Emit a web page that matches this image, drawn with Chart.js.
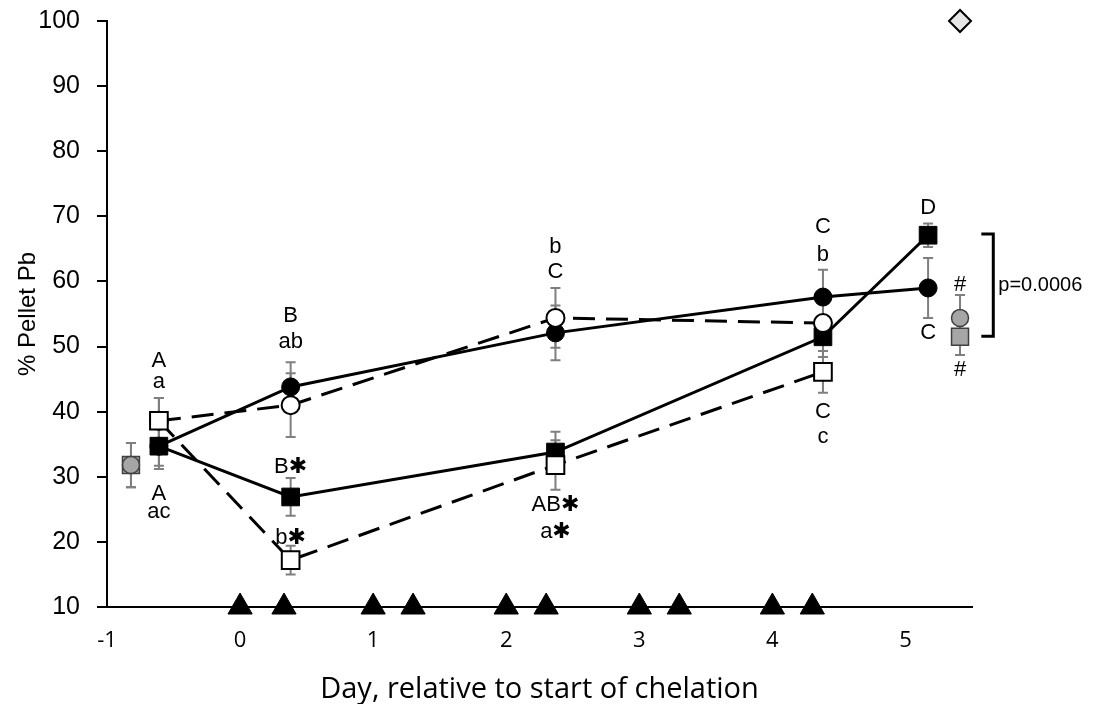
<!DOCTYPE html>
<html>
<head>
<meta charset="utf-8">
<script src="https://cdn.jsdelivr.net/npm/chart.js@4.4.1/dist/chart.umd.min.js"></script>
<style>
    html, body { margin: 0; padding: 0; background: #fff; }
</style>
</head>
<body>
<canvas id="line-chart" width="1096" height="704"></canvas>
<script>
var days = [-0.61, 0.38, 2.37, 4.38, 5.17];
var filledCircle = [34.7, 43.8, 52.1, 57.6, 59.0];
var filledCircleErr = [3.0, 3.8, 4.2, 4.2, 4.6];
var openCircle = [38.6, 41.0, 54.4, 53.6];
var openCircleErr = [3.5, 4.9, 4.6, 3.0];
var filledSquare = [34.7, 26.9, 33.8, 51.5, 67.1];
var filledSquareErr = [3.5, 2.9, 3.1, 3.1, 1.8];
var openSquare = [38.6, 17.2, 31.8, 46.1];
var openSquareErr = [3.5, 2.2, 3.8, 3.2];

// reference groups (grey) and the diamond
var refDays = [-0.82, 5.41];
var refCircle = [31.8, 54.4];
var refCircleErr = [3.4, 3.5];
var refSquare = [31.8, 51.5];
var refSquareErr = [3.4, 2.8];
var diamondDays = [5.41];
var diamondVals = [100];

// chelation doses on the x axis
var doseDays = [0, 0.33, 1, 1.3, 2, 2.3, 3, 3.3, 4, 4.3];
var doseVals = [10, 10, 10, 10, 10, 10, 10, 10, 10, 10];

var labelText = ["A", "a", "A", "ac", "B", "ab", "B\u2731", "b\u2731", "b", "C", "AB\u2731", "a\u2731", "C", "b", "C", "c", "D", "C", "#", "#"];
var labelDay = [-0.61, -0.61, -0.61, -0.61, 0.38, 0.38, 0.38, 0.38, 2.37, 2.37, 2.37, 2.37, 4.38, 4.38, 4.38, 4.38, 5.17, 5.17, 5.41, 5.41];
var labelVal = [47.8, 44.6, 27.4, 24.6, 54.7, 50.7, 31.5, 20.6, 65.3, 61.5, 25.7, 21.5, 68.4, 64.1, 40.0, 36.1, 71.3, 52.1, 59.5, 46.4];

var bracketDays = [5.57, 5.66];
var bracketVals = [67.3, 51.6];
var bracketText = "p=0.0006";

var textFont = "'Liberation Sans', 'DejaVu Sans', Arial, sans-serif";
var axisFont = "'Open Sans', 'Liberation Sans', sans-serif";

function toPoints(xs, ys) {
    return ys.map(function (y, i) { return {x: xs[i], y: y}; });
}

var errorGroups = [
    {xs: days, ys: filledCircle, errs: filledCircleErr},
    {xs: days, ys: openCircle, errs: openCircleErr},
    {xs: days, ys: filledSquare, errs: filledSquareErr},
    {xs: days, ys: openSquare, errs: openSquareErr},
    {xs: refDays, ys: refCircle, errs: refCircleErr},
    {xs: refDays, ys: refSquare, errs: refSquareErr}
];

var extras = {
    id: "extras",
    beforeDatasetsDraw: function (chart) {
        var ctx = chart.ctx, xs = chart.scales.x, ys = chart.scales.y;
        ctx.save();
        ctx.strokeStyle = "#7f7f7f";
        ctx.lineWidth = 2;
        errorGroups.forEach(function (g) {
            g.ys.forEach(function (v, i) {
                var px = xs.getPixelForValue(g.xs[i]);
                var top = ys.getPixelForValue(v + g.errs[i]);
                var bot = ys.getPixelForValue(v - g.errs[i]);
                ctx.beginPath();
                ctx.moveTo(px, top); ctx.lineTo(px, bot);
                ctx.moveTo(px - 5, top); ctx.lineTo(px + 5, top);
                ctx.moveTo(px - 5, bot); ctx.lineTo(px + 5, bot);
                ctx.stroke();
            });
        });
        ctx.restore();
    },
    afterDraw: function (chart) {
        var ctx = chart.ctx, xs = chart.scales.x, ys = chart.scales.y;
        ctx.save();
        ctx.fillStyle = "#000";
        ctx.textAlign = "center";
        ctx.textBaseline = "middle";
        ctx.font = "22px " + textFont;
        labelText.forEach(function (t, i) {
            ctx.fillText(t, xs.getPixelForValue(labelDay[i]), ys.getPixelForValue(labelVal[i]));
        });

        var x0 = xs.getPixelForValue(bracketDays[0]), x1 = xs.getPixelForValue(bracketDays[1]);
        var y0 = ys.getPixelForValue(bracketVals[0]), y1 = ys.getPixelForValue(bracketVals[1]);
        ctx.strokeStyle = "#000";
        ctx.lineWidth = 3;
        ctx.beginPath();
        ctx.moveTo(x0, y0); ctx.lineTo(x1, y0); ctx.lineTo(x1, y1); ctx.lineTo(x0, y1);
        ctx.stroke();
        ctx.textAlign = "left";
        ctx.font = "20px " + textFont;
        ctx.fillText(bracketText, x1 + 5, (y0 + y1) / 2);
        ctx.restore();
    }
};

var datasets = [
    {data: toPoints(days, openSquare), showLine: true, borderDash: [22, 11], borderColor: "#000", borderWidth: 3,
        pointStyle: "rect", pointRadius: 12.5, pointBackgroundColor: "#fff", pointBorderColor: "#000", pointBorderWidth: 2},
    {data: toPoints(days, openCircle), showLine: true, borderDash: [22, 11], borderColor: "#000", borderWidth: 3,
        pointStyle: "circle", pointRadius: 9, pointBackgroundColor: "#fff", pointBorderColor: "#000", pointBorderWidth: 2},
    {data: toPoints(days, filledSquare), showLine: true, borderColor: "#000", borderWidth: 3,
        pointStyle: "rect", pointRadius: 12.5, pointBackgroundColor: "#000", pointBorderColor: "#000", pointBorderWidth: 1},
    {data: toPoints(days, filledCircle), showLine: true, borderColor: "#000", borderWidth: 3,
        pointStyle: "circle", pointRadius: 9, pointBackgroundColor: "#000", pointBorderColor: "#000", pointBorderWidth: 1},
    {data: toPoints(refDays, refCircle), pointStyle: "circle", pointRadius: 8.5,
        pointBackgroundColor: "#a6a6a6", pointBorderColor: "#404040", pointBorderWidth: 1.5},
    {data: toPoints(refDays, refSquare), pointStyle: "rect", pointRadius: 12,
        pointBackgroundColor: "#a6a6a6", pointBorderColor: "#404040", pointBorderWidth: 1.5},
    {data: toPoints(diamondDays, diamondVals), pointStyle: "rectRot", pointRadius: 11,
        pointBackgroundColor: "#e6e6e6", pointBorderColor: "#000", pointBorderWidth: 2},
    {data: toPoints(doseDays, doseVals), pointStyle: "triangle", pointRadius: 14,
        pointBackgroundColor: "#000", pointBorderColor: "#000", pointBorderWidth: 1}
];
datasets.forEach(function (d) { d.clip = false; d.tension = 0; d.pointHoverRadius = d.pointRadius; });

new Chart(document.getElementById("line-chart"), {
    type: "scatter",
    data: {datasets: datasets},
    options: {
        responsive: false,
        animation: false,
        devicePixelRatio: 1,
        layout: {autoPadding: false, padding: {top: 21, right: 124, left: 0, bottom: 0}},
        plugins: {legend: {display: false}, tooltip: {enabled: false}},
        scales: {
            x: {
                type: "linear", min: -1, max: 5.5,
                grid: {display: false, drawTicks: false},
                border: {display: true, color: "#000", width: 2},
                ticks: {
                    stepSize: 1, padding: 21, color: "#000",
                    font: {family: axisFont, size: 22},
                    callback: function (v) { return Number.isInteger(v) ? v : ""; }
                },
                title: {display: true, text: "Day, relative to start of chelation", color: "#000",
                    font: {family: axisFont, size: 29}, padding: {top: 0, bottom: -3}},
                afterFit: function (s) { s.height = 97; }
            },
            y: {
                min: 10, max: 100,
                grid: {drawOnChartArea: false, drawTicks: true, tickLength: 10, color: "#000", lineWidth: 2},
                border: {display: true, color: "#000", width: 2},
                ticks: {stepSize: 10, padding: 17, color: "#000", font: {family: textFont, size: 25}},
                title: {display: true, text: "% Pellet Pb", color: "#000",
                    font: {family: textFont, size: 24}, padding: {top: 14, bottom: 0}},
                afterFit: function (s) { s.width = 107; s.paddingTop = 0; s.paddingBottom = 0; }
            }
        }
    },
    plugins: [extras]
});
</script>
</body>
</html>
